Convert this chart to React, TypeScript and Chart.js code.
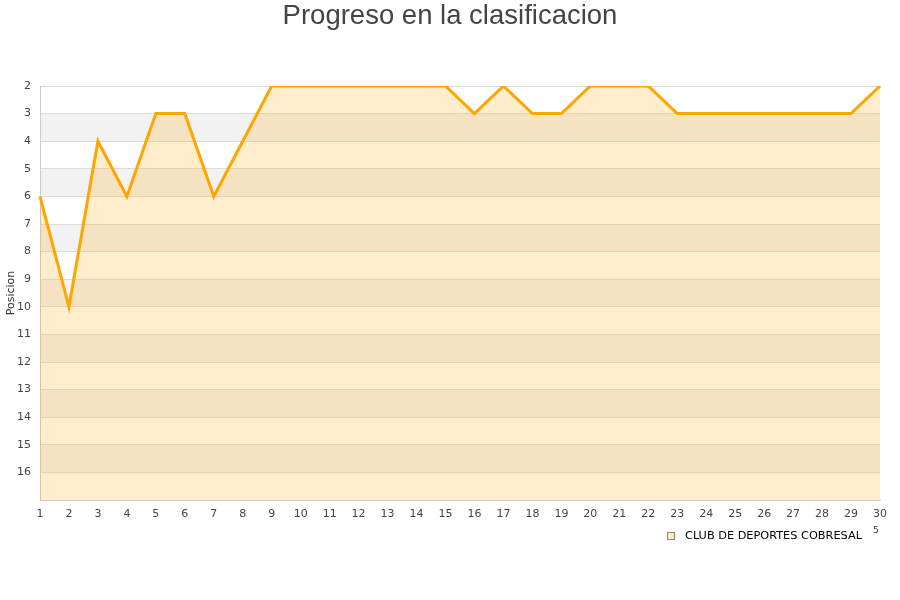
import { useEffect, useRef } from "react";
import { Chart, registerables } from "chart.js";

Chart.register(...registerables);

const chartTitle = "Progreso en la clasificacion";
const yAxisTitle = "Posicion";
const seriesName = "CLUB DE DEPORTES COBRESAL";
const rounds = [
  "1", "2", "3", "4", "5", "6", "7", "8", "9", "10",
  "11", "12", "13", "14", "15", "16", "17", "18", "19", "20",
  "21", "22", "23", "24", "25", "26", "27", "28", "29", "30",
];
const positions = [
  6, 10, 4, 6, 3, 3, 6, 4, 2, 2,
  2, 2, 2, 2, 2, 3, 2, 3, 3, 2,
  2, 2, 3, 3, 3, 3, 3, 3, 3, 2,
];
const yMin = 2;
const yMax = 17;
const bandStarts = [3, 5, 7, 9, 11, 13, 15];

const FONT = "'DejaVu Sans', Verdana, sans-serif";

export default function App() {
  const ref = useRef<HTMLCanvasElement | null>(null);

  useEffect(() => {
    document.body.style.margin = "0";
    const canvas = ref.current;
    if (!canvas) return;

    const decor = {
      id: "decor",
      beforeDraw(chart: any) {
        const { ctx, chartArea, scales } = chart;
        const y = scales.y;
        ctx.save();
        ctx.fillStyle = "#f2f2f2";
        for (const b of bandStarts) {
          const y1 = y.getPixelForValue(b);
          const y2 = y.getPixelForValue(b + 1);
          ctx.fillRect(chartArea.left, y1, chartArea.right - chartArea.left, y2 - y1);
        }
        ctx.restore();
      },
      afterDraw(chart: any) {
        const { ctx } = chart;
        ctx.save();
        // title
        ctx.fillStyle = "#444";
        ctx.font = "27.5px 'Liberation Sans', Arial, sans-serif";
        ctx.textAlign = "center";
        ctx.textBaseline = "middle";
        ctx.fillText(chartTitle, 450, 16);
        // y axis title
        ctx.save();
        ctx.translate(11, 293);
        ctx.rotate(-Math.PI / 2);
        ctx.font = "11px " + FONT;
        ctx.fillStyle = "#333";
        ctx.fillText(yAxisTitle, 0, 0);
        ctx.restore();
        // legend
        ctx.fillStyle = "#FFEBC8";
        ctx.fillRect(667.5, 532.5, 7, 7);
        ctx.strokeStyle = "#888";
        ctx.lineWidth = 1;
        ctx.strokeRect(667.5, 532.5, 7, 7);
        ctx.fillStyle = "#000";
        ctx.font = "11.3px " + FONT;
        ctx.textAlign = "left";
        ctx.fillText(seriesName, 685, 536);
        ctx.font = "9px " + FONT;
        ctx.fillStyle = "#333";
        ctx.fillText("5", 873, 531);
        ctx.restore();
      },
    };

    const chart = new Chart(canvas, {
      type: "line",
      data: {
        labels: rounds,
        datasets: [
          {
            label: seriesName,
            data: positions,
            borderColor: "#FFA500",
            borderWidth: 3,
            backgroundColor: "rgba(255,165,0,0.2)",
            fill: { value: yMax },
            pointRadius: 0,
            pointHoverRadius: 0,
            tension: 0,
          },
        ],
      },
      options: {
        responsive: false,
        animation: false,
        layout: { padding: { left: 0, top: 86, right: 20, bottom: 0 } },
        plugins: {
          legend: { display: false },
          title: { display: false },
          tooltip: { enabled: false },
        },
        scales: {
          x: {
            type: "category",
            offset: false,
            grid: { display: false, drawTicks: false },
            border: { display: true, color: "#ccc" },
            ticks: {
              color: "#444",
              font: { family: FONT, size: 11 },
              padding: 8,
              maxRotation: 0,
              autoSkip: false,
            },
            afterFit(scale: any) {
              scale.height = 100;
            },
          },
          y: {
            type: "linear",
            reverse: true,
            min: yMin,
            max: yMax,
            grid: { color: "#dcdcdc", drawTicks: false },
            border: { display: true, color: "#ccc" },
            ticks: {
              stepSize: 1,
              color: "#444",
              font: { family: FONT, size: 11 },
              padding: 9,
              callback: (v: any) => (Number(v) === yMax ? "" : String(v)),
            },
            afterFit(scale: any) {
              scale.width = 40;
            },
          },
        },
      },
      plugins: [decor],
    });

    return () => chart.destroy();
  }, []);

  return (
    <div style={{ width: 900, height: 600 }}>
      <canvas ref={ref} width={900} height={600} style={{ width: 900, height: 600, display: "block" }} />
    </div>
  );
}
